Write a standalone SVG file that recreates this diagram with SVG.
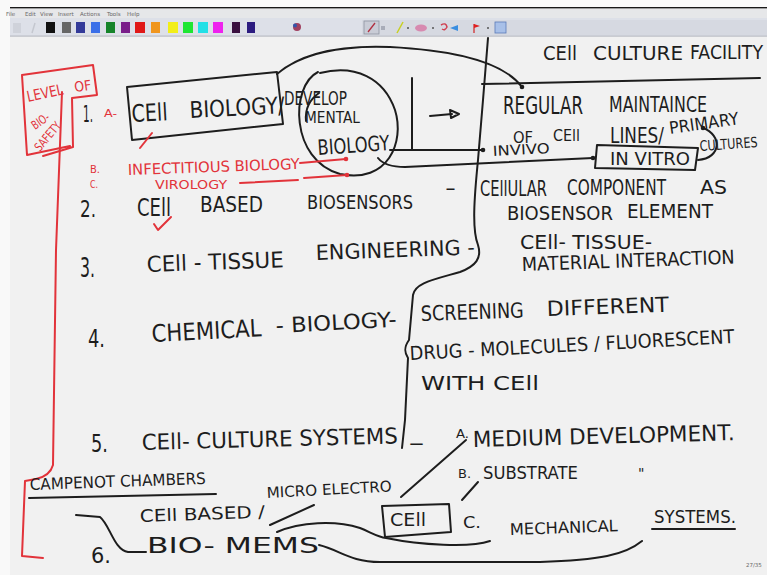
<svg xmlns="http://www.w3.org/2000/svg" width="767" height="575" viewBox="0 0 767 575">
<style>
.t{font-family:"DejaVu Sans","Liberation Sans",sans-serif;fill:#1d1d1d}
.r{font-family:"DejaVu Sans","Liberation Sans",sans-serif;fill:#e2333a}
.m{font-family:"DejaVu Sans","Liberation Sans",sans-serif;fill:#666;font-size:5.5px}
.k{fill:none;stroke:#1d1d1d;stroke-width:2;stroke-linecap:round;stroke-linejoin:round}
.rl{fill:none;stroke:#e2333a;stroke-width:2;stroke-linecap:round;stroke-linejoin:round}
</style>
<defs>
<marker id="dotB" markerWidth="6" markerHeight="6" refX="3" refY="3" markerUnits="userSpaceOnUse"><circle cx="3" cy="3" r="2.3" fill="#1d1d1d"/></marker>
<marker id="dotR" markerWidth="6" markerHeight="6" refX="3" refY="3" markerUnits="userSpaceOnUse"><circle cx="3" cy="3" r="2.3" fill="#e2333a"/></marker>
</defs>
<!-- screen background -->
<rect x="0" y="0" width="767" height="575" fill="#f1f1f1"/>
<rect x="0" y="0" width="767" height="7" fill="#fbfbfb"/>
<rect x="0" y="0" width="10" height="575" fill="#f9f9f9"/>
<!-- toolbar -->
<g id="toolbar">
<rect x="10" y="7" width="757" height="1.6" fill="#1a1a1a"/>
<rect x="10" y="8.6" width="757" height="9.4" fill="#e6e7e9"/>
<text class="m" x="6" y="15.5">File</text>
<text class="m" x="25" y="15.5">Edit</text>
<text class="m" x="40" y="15.5">View</text>
<text class="m" x="58" y="15.5">Insert</text>
<text class="m" x="80" y="15.5">Actions</text>
<text class="m" x="107" y="15.5">Tools</text>
<text class="m" x="127" y="15.5">Help</text>
<rect x="10" y="18" width="757" height="18" fill="#dde0e8"/>
<rect x="10" y="35.5" width="757" height="1.2" fill="#b9bcc4"/>
<rect x="13" y="23" width="8" height="10" fill="#cfd2da"/>
<line x1="32" y1="33" x2="35" y2="23" stroke="#c4c7cf" stroke-width="1.5"/>
<rect x="46" y="22" width="9" height="11" fill="#111"/>
<rect x="62" y="22" width="9" height="11" fill="#666"/>
<rect x="76" y="22" width="9" height="11" fill="#333a99"/>
<rect x="91" y="22" width="9" height="11" fill="#3a6fe8"/>
<rect x="106" y="22" width="9" height="11" fill="#16842a"/>
<rect x="121" y="22" width="9" height="11" fill="#7a1e8a"/>
<rect x="135" y="22" width="10" height="11" fill="#e01818"/>
<rect x="151" y="22" width="9" height="11" fill="#f0961e"/>
<rect x="168" y="22" width="10" height="11" fill="#f2ee18"/>
<rect x="183" y="22" width="10" height="11" fill="#1ee632"/>
<rect x="198" y="22" width="10" height="11" fill="#22e0e6"/>
<rect x="213" y="22" width="10" height="11" fill="#ee22ee"/>
<rect x="232" y="22" width="8" height="11" fill="#3a1040"/>
<rect x="247" y="22" width="8" height="11" fill="#2c1c80"/>
<circle cx="297" cy="27" r="4" fill="#a04060"/>
<circle cx="295" cy="25.5" r="2" fill="#3355aa"/>
<rect x="362" y="20" width="405" height="15" fill="#d6d9e1"/>
<rect x="364" y="21" width="15" height="13" fill="#c9ccd6" stroke="#8e93a0" stroke-width="0.8"/>
<line x1="368" y1="32" x2="375" y2="23" stroke="#b03040" stroke-width="1.3"/>
<rect x="381" y="26" width="4" height="4" fill="#a8acb8"/>
<line x1="397" y1="33" x2="403" y2="22" stroke="#c8d020" stroke-width="1.5"/>
<circle cx="408" cy="28" r="1" fill="#555"/>
<ellipse cx="421" cy="28" rx="6" ry="3.5" fill="#d78ab0"/>
<circle cx="433" cy="28" r="1" fill="#555"/>
<path d="M441 25 q5 -3 6 2 q-2 4 -5 2" fill="none" stroke="#d04050" stroke-width="1.5"/>
<path d="M450 28 l8 -3 v6 z" fill="#3a8ee0"/>
<line x1="474" y1="24" x2="474" y2="33" stroke="#d02020" stroke-width="1.2"/>
<path d="M474 24 l6 2 l-6 2 z" fill="#e02020"/>
<circle cx="488" cy="28" r="1" fill="#555"/>
<rect x="495" y="22" width="11" height="11" fill="#a8c0e8" stroke="#5a7ab8" stroke-width="0.8"/>
</g>

<!-- red: level of bio-safety -->
<g id="biosafety">
<path class="rl" d="M22 75 L93 65 L97 95 L72 98 L73 147 L43 156 M27 155 L22 75 M27 155 L70 146"/>
<text class="r" x="28" y="102" font-size="15" textLength="37" lengthAdjust="spacingAndGlyphs" transform="rotate(-12 28 102)">LEVEL</text>
<text class="r" x="75" y="92" font-size="14" textLength="17" lengthAdjust="spacingAndGlyphs" transform="rotate(-8 75 92)">OF</text>
<text class="r" x="35" y="130" font-size="12" textLength="19" lengthAdjust="spacingAndGlyphs" transform="rotate(-35 35 130)">BIO-</text>
<text class="r" x="40" y="152" font-size="12" textLength="34" lengthAdjust="spacingAndGlyphs" transform="rotate(-50 40 152)">SAFETY</text>
<path class="rl" d="M62 92 L56 250 L53 465 Q50 476 36 479 L25 481 L22 556 L43 558"/>
</g>

<!-- item 1 -->
<g id="item1">
<text class="t" font-size="18" textLength="10" lengthAdjust="spacingAndGlyphs" transform="translate(83 122) scale(1 1.3)">1.</text>
<text class="r" x="104" y="117" font-size="11" textLength="13" lengthAdjust="spacingAndGlyphs">A-</text>
<path class="k" d="M127 87 L277 72 L283 124 L132 140 Z"/>
<text class="t" x="132" y="122" font-size="24" textLength="36" lengthAdjust="spacingAndGlyphs" transform="rotate(-3 132 122)">CEll</text>
<text class="t" x="190" y="118" font-size="23" textLength="95" lengthAdjust="spacingAndGlyphs" transform="rotate(-3 190 118)">BIOLOGY/</text>
<path class="k" d="M318 72 C290 86 290 160 340 174 C388 184 405 142 395 110 C384 78 355 64 320 73"/>
<path class="k" d="M319 93 C309 100 305 110 306 121"/>
<text class="t" x="284" y="105" font-size="19" textLength="63" lengthAdjust="spacingAndGlyphs">DEVELOP</text>
<text class="t" x="305" y="123" font-size="16" textLength="55" lengthAdjust="spacingAndGlyphs">MENTAL</text>
<text class="t" x="318" y="155" font-size="21" textLength="72" lengthAdjust="spacingAndGlyphs" transform="rotate(-4 318 155)">BIOLOGY</text>
<path class="k" d="M277 74 C300 54 340 45 390 47 C450 50 502 60 522 87" marker-end="url(#dotB)"/>
<line class="k" x1="412" y1="78" x2="412" y2="150"/>
<path class="k" d="M390 150 L483 150" marker-end="url(#dotB)"/>
<path class="k" d="M378 158 Q385 167 405 167 L593 158" marker-end="url(#dotB)"/>
<path class="k" d="M430 116 L452 114"/>
<path class="k" d="M450 110 L459 114 L451 118 Z"/>
<text class="r" x="90" y="173" font-size="11" textLength="10" lengthAdjust="spacingAndGlyphs">B.</text>
<text class="r" x="128" y="175" font-size="15" textLength="172" lengthAdjust="spacingAndGlyphs" transform="rotate(-2 128 175)">INFECTITIOUS BIOLOGY</text>
<path class="rl" d="M300 163 L346 159" marker-end="url(#dotR)"/>
<text class="r" x="90" y="188" font-size="10" textLength="8" lengthAdjust="spacingAndGlyphs">C.</text>
<text class="r" x="155" y="189" font-size="13" textLength="72" lengthAdjust="spacingAndGlyphs">VIROLOGY</text>
<path class="rl" d="M240 183 L298 180 M304 178 L347 175" marker-end="url(#dotR)"/>
<path class="rl" d="M140 148 L152 133"/>
</g>

<!-- right column top -->
<g id="cellculture">
<text class="t" x="543" y="60" font-size="20" textLength="34" lengthAdjust="spacingAndGlyphs">CEll</text>
<text class="t" x="593" y="60" font-size="20" textLength="90" lengthAdjust="spacingAndGlyphs">CULTURE</text>
<text class="t" font-size="17" textLength="73" lengthAdjust="spacingAndGlyphs" transform="translate(690 59) scale(1 1.18)">FACILITY</text>
<path class="k" d="M482 84 L760 78"/>
<path class="k" d="M488 38 L483 100 L478 160 C474 200 472 230 478 245 C482 258 476 266 460 272 C432 280 415 283 413 295 L409 340 C404 347 404 352 408 358 L405 420 L402 448"/>
<text class="t" x="503" y="114" font-size="24" textLength="80" lengthAdjust="spacingAndGlyphs">REGULAR</text>
<text class="t" x="609" y="112" font-size="21" textLength="98" lengthAdjust="spacingAndGlyphs">MAINTAINCE</text>
<text class="t" x="513" y="143" font-size="16" textLength="20" lengthAdjust="spacingAndGlyphs">OF</text>
<text class="t" x="553" y="141" font-size="16" textLength="27" lengthAdjust="spacingAndGlyphs">CEll</text>
<text class="t" x="610" y="143" font-size="22" textLength="54" lengthAdjust="spacingAndGlyphs">LINES/</text>
<text class="t" x="670" y="134" font-size="17" textLength="70" lengthAdjust="spacingAndGlyphs" transform="rotate(-8 670 134)">PRIMARY</text>
<text class="t" font-size="11" textLength="58" lengthAdjust="spacingAndGlyphs" transform="translate(700 151) rotate(-4) scale(1 1.3)">CULTURES</text>
<path class="k" d="M698 160 C722 158 722 135 703 128" marker-end="url(#dotB)"/>
<text class="t" x="493" y="156" font-size="14" textLength="57" lengthAdjust="spacingAndGlyphs" transform="rotate(-3 493 156)">INVIVO</text>
<path class="k" d="M597 145 L698 148 L695 170 L595 168 Z"/>
<text class="t" x="610" y="165" font-size="17" textLength="80" lengthAdjust="spacingAndGlyphs">IN VITRO</text>
</g>

<!-- item 2 -->
<g id="item2">
<text class="t" x="80" y="217" font-size="23" textLength="16" lengthAdjust="spacingAndGlyphs">2.</text>
<text class="t" x="137" y="216" font-size="24" textLength="34" lengthAdjust="spacingAndGlyphs">CEll</text>
<text class="t" x="200" y="212" font-size="21" textLength="63" lengthAdjust="spacingAndGlyphs">BASED</text>
<text class="t" x="307" y="209" font-size="20" textLength="106" lengthAdjust="spacingAndGlyphs">BIOSENSORS</text>
<text class="t" x="445" y="195" font-size="20" textLength="11" lengthAdjust="spacingAndGlyphs">-</text>
<path class="rl" d="M154 224 L158 230 L171 217"/>
<text class="t" font-size="17" textLength="67" lengthAdjust="spacingAndGlyphs" transform="translate(480 196) scale(1 1.2)">CEllULAR</text>
<text class="t" font-size="17" textLength="99" lengthAdjust="spacingAndGlyphs" transform="translate(567 195) scale(1 1.2)">COMPONENT</text>
<text class="t" x="700" y="194" font-size="20" textLength="27" lengthAdjust="spacingAndGlyphs">AS</text>
<text class="t" x="507" y="220" font-size="20" textLength="106" lengthAdjust="spacingAndGlyphs">BIOSENSOR</text>
<text class="t" x="627" y="218" font-size="20" textLength="86" lengthAdjust="spacingAndGlyphs">ELEMENT</text>
</g>

<!-- item 3 -->
<g id="item3">
<text class="t" x="80" y="277" font-size="26" textLength="15" lengthAdjust="spacingAndGlyphs">3.</text>
<text class="t" x="147" y="272" font-size="22" textLength="137" lengthAdjust="spacingAndGlyphs" transform="rotate(-2 147 272)">CEll - TISSUE</text>
<text class="t" x="316" y="260" font-size="21" textLength="159" lengthAdjust="spacingAndGlyphs" transform="rotate(-2 316 260)">ENGINEERING -</text>
<text class="t" x="520" y="249" font-size="19" textLength="132" lengthAdjust="spacingAndGlyphs">CEll- TISSUE-</text>
<text class="t" x="522" y="271" font-size="19" textLength="213" lengthAdjust="spacingAndGlyphs" transform="rotate(-2 522 271)">MATERIAL INTERACTION</text>
</g>

<!-- item 4 -->
<g id="item4">
<text class="t" x="88" y="347" font-size="25" textLength="17" lengthAdjust="spacingAndGlyphs">4.</text>
<text class="t" x="152" y="342" font-size="24" textLength="110" lengthAdjust="spacingAndGlyphs" transform="rotate(-3 152 342)">CHEMICAL</text>
<text class="t" x="276" y="333" font-size="21" textLength="121" lengthAdjust="spacingAndGlyphs" transform="rotate(-3 276 333)">- BIOLOGY-</text>
<text class="t" x="421" y="321" font-size="21" textLength="103" lengthAdjust="spacingAndGlyphs" transform="rotate(-2 421 321)">SCREENING</text>
<text class="t" x="547" y="316" font-size="21" textLength="122" lengthAdjust="spacingAndGlyphs" transform="rotate(-2 547 316)">DIFFERENT</text>
<text class="t" x="410" y="360" font-size="19" textLength="325" lengthAdjust="spacingAndGlyphs" transform="rotate(-3 410 360)">DRUG - MOLECULES / FLUORESCENT</text>
<text class="t" x="421" y="390" font-size="20" textLength="118" lengthAdjust="spacingAndGlyphs">WITH CEll</text>
</g>

<!-- item 5 -->
<g id="item5">
<text class="t" x="91" y="452" font-size="24" textLength="17" lengthAdjust="spacingAndGlyphs">5.</text>
<text class="t" x="142" y="450" font-size="22" textLength="256" lengthAdjust="spacingAndGlyphs" transform="rotate(-1.5 142 450)">CEll- CULTURE SYSTEMS</text>
<text class="t" x="408" y="450" font-size="20" textLength="17" lengthAdjust="spacingAndGlyphs">-</text>
<text class="t" x="456" y="438" font-size="12" textLength="13" lengthAdjust="spacingAndGlyphs">A.</text>
<text class="t" x="473" y="447" font-size="22" textLength="262" lengthAdjust="spacingAndGlyphs" transform="rotate(-1.5 473 447)">MEDIUM DEVELOPMENT.</text>
<text class="t" x="458" y="478" font-size="12" textLength="13" lengthAdjust="spacingAndGlyphs">B.</text>
<text class="t" x="483" y="479" font-size="18" textLength="95" lengthAdjust="spacingAndGlyphs">SUBSTRATE</text>
<text class="t" x="638" y="478" font-size="14">"</text>
<path class="k" d="M466 440 L401 497"/>
<path class="k" d="M478 482 L462 500"/>
</g>

<!-- item 6 -->
<g id="item6">
<text class="t" x="30" y="490" font-size="16" textLength="176" lengthAdjust="spacingAndGlyphs" transform="rotate(-2 30 490)">CAMPENOT CHAMBERS</text>
<path class="k" d="M29 498 L216 494"/>
<text class="t" x="267" y="498" font-size="15" textLength="125" lengthAdjust="spacingAndGlyphs" transform="rotate(-3 267 498)">MICRO ELECTRO</text>
<text class="t" x="140" y="522" font-size="17" textLength="125" lengthAdjust="spacingAndGlyphs" transform="rotate(-2 140 522)">CEll BASED /</text>
<path class="k" d="M270 525 L314 505"/>
<path class="k" d="M382 506 L449 504 L451 532 L385 537 Z"/>
<text class="t" x="390" y="526" font-size="18" textLength="36" lengthAdjust="spacingAndGlyphs">CEll</text>
<text class="t" x="463" y="528" font-size="16" textLength="18" lengthAdjust="spacingAndGlyphs">C.</text>
<text class="t" x="510" y="535" font-size="16" textLength="108" lengthAdjust="spacingAndGlyphs" transform="rotate(-2 510 535)">MECHANICAL</text>
<text class="t" x="654" y="523" font-size="18" textLength="82" lengthAdjust="spacingAndGlyphs">SYSTEMS.</text>
<path class="k" d="M652 529 L735 529"/>
<text class="t" x="91" y="563" font-size="22" textLength="20" lengthAdjust="spacingAndGlyphs">6.</text>
<text class="t" x="147" y="553" font-size="22" textLength="172" lengthAdjust="spacingAndGlyphs">BIO- MEMS</text>
<path class="k" d="M76 515 L100 517 C110 525 114 550 128 552 L146 552"/>
<path class="k" d="M277 532 C300 522 335 520 360 528 C372 533 378 537 386 538 C420 545 470 548 490 541"/>
<path class="k" d="M319 545 C340 550 350 562 380 562 L540 562 C600 560 625 555 642 541"/>
<text class="m" x="746" y="567" font-size="4.5">27/35</text>
</g>
</svg>
